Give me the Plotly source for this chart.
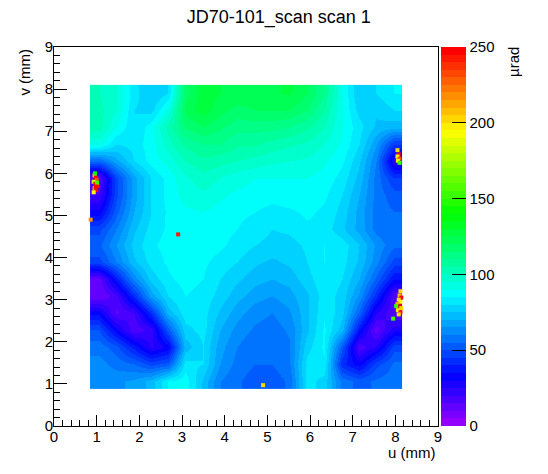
import colorsys
import plotly.graph_objects as go

# ---- data (values in µrad) ----
u_centers = [1.05, 1.46, 1.87, 2.27, 2.68, 3.08, 3.49, 3.90, 4.30,
             4.71, 5.11, 5.52, 5.93, 6.33, 6.74, 7.14, 7.55, 7.96]
v_centers_top_down = [7.90, 7.50, 7.10, 6.70, 6.30, 5.90, 5.49, 5.09, 4.69,
                      4.29, 3.89, 3.49, 3.09, 2.69, 2.28, 1.88, 1.48, 1.08]

rows_top_down = [
    [100, 95, 82, 75, 80, 118, 128, 125, 124, 124, 124, 126, 120, 110, 90, 75, 80, 85],
    [102, 95, 80, 78, 92, 122, 128, 122, 118, 120, 120, 120, 115, 105, 90, 78, 76, 80],
    [102, 90, 80, 88, 102, 115, 120, 116, 112, 112, 112, 110, 106, 100, 90, 82, 74, 72],
    [92, 80, 82, 88, 98, 106, 110, 110, 106, 106, 103, 101, 99, 95, 89, 80, 66, 45],
    [55, 68, 80, 87, 92, 100, 104, 102, 100, 98, 96, 95, 94, 91, 86, 76, 60, 25],
    [15, 48, 68, 80, 87, 94, 98, 95, 92, 90, 90, 90, 90, 88, 83, 73, 58, 45],
    [20, 48, 68, 80, 87, 92, 94, 91, 89, 88, 87, 88, 88, 86, 80, 70, 58, 52],
    [32, 53, 70, 80, 86, 89, 90, 88, 86, 85, 83, 84, 86, 84, 78, 68, 58, 55],
    [48, 60, 74, 82, 86, 88, 88, 87, 85, 83, 80, 81, 84, 83, 76, 68, 58, 55],
    [54, 65, 77, 84, 87, 88, 88, 86, 83, 80, 78, 78, 81, 85, 83, 75, 64, 56],
    [48, 60, 74, 82, 86, 88, 86, 83, 80, 76, 74, 76, 80, 85, 82, 74, 62, 48],
    [12, 38, 62, 77, 84, 87, 85, 80, 76, 72, 70, 72, 78, 84, 80, 70, 54, 35],
    [10, 18, 42, 67, 80, 85, 83, 78, 72, 67, 65, 68, 74, 83, 78, 64, 42, 15],
    [33, 14, 20, 42, 72, 83, 82, 74, 67, 62, 60, 64, 74, 84, 77, 54, 25, 15],
    [50, 32, 16, 22, 52, 78, 82, 70, 63, 59, 57, 61, 74, 86, 72, 36, 12, 28],
    [58, 52, 38, 24, 32, 72, 80, 67, 60, 56, 55, 59, 78, 86, 52, 16, 26, 48],
    [62, 58, 55, 48, 52, 82, 80, 65, 58, 55, 55, 59, 82, 84, 42, 32, 48, 56],
    [64, 64, 66, 72, 85, 88, 74, 60, 56, 52, 52, 56, 82, 78, 58, 53, 56, 58],
]

# isolated hot pixels (u mm, v mm, µrad)
hot_u = [0.95, 0.98, 1.00, 0.93, 0.97, 1.02, 0.95, 0.99, 0.93, 1.01, 0.96, 0.98, 0.86,
         8.05, 8.08, 8.05, 8.10, 8.06, 8.10,
         8.12, 8.10, 8.14, 8.08, 8.12, 8.05, 8.10, 8.14, 8.06, 8.12, 8.08, 8.02, 7.95,
         2.91, 4.90]
hot_v = [5.95, 5.90, 5.85, 5.80, 5.75, 5.70, 5.65, 5.60, 5.55, 5.78, 6.00, 5.68, 4.90,
         6.55, 6.45, 6.40, 6.35, 6.30, 6.25,
         3.20, 3.10, 3.05, 3.00, 2.95, 2.90, 2.85, 2.80, 2.75, 2.70, 2.65, 2.85, 2.55,
         4.55, 0.97]
hot_val = [200, 245, 230, 180, 250, 240, 210, 245, 190, 150, 140, 245, 215,
           200, 245, 190, 230, 195, 150,
           200, 205, 245, 200, 190, 210, 245, 200, 195, 240, 200, 150, 150,
           240, 200]

z_min, z_max = 0, 250
cb_ticks = [0, 50, 100, 150, 200, 250]

# ---- ROOT-like 50-colour rainbow palette (hue 280 -> 0) ----
ncol = 50
cscale = []
for i in range(ncol):
    hue = 280 - (i + 1) * (280 / ncol)
    r, g, b = colorsys.hls_to_rgb(hue / 360.0, 0.5, 1.0)
    col = f"rgb({int(r*255)},{int(g*255)},{int(b*255)})"
    cscale.append([i / ncol, col])
    cscale.append([(i + 1) / ncol, col])

z = rows_top_down[::-1]
v_centers = v_centers_top_down[::-1]

FONT = "Liberation Sans"

fig = go.Figure()
fig.add_trace(go.Heatmap(
    x=u_centers, y=v_centers, z=z,
    zmin=z_min, zmax=z_max, colorscale=cscale, zsmooth="best",
    colorbar=dict(
        x=1.008, xanchor="left", y=0.5, yanchor="middle", len=1.0,
        thickness=25, xpad=0, ypad=0, outlinewidth=0,
        tickvals=cb_ticks, ticks="inside", ticklen=14, tickcolor="black",
        tickfont=dict(family=FONT, size=15, color="black"),
    ),
))
fig.add_trace(go.Scatter(
    x=hot_u, y=hot_v, mode="markers",
    marker=dict(symbol="square", size=4, color=hot_val, cmin=z_min, cmax=z_max,
                colorscale=cscale, showscale=False, line=dict(width=0)),
    hoverinfo="skip", showlegend=False,
))

axis_common = dict(
    range=[0, 9], dtick=1, ticks="inside", tickcolor="black", tickwidth=1,
    showline=True, linecolor="black", linewidth=1, mirror=True,
    showgrid=False, zeroline=False, ticklabelstandoff=-3,
    tickfont=dict(family=FONT, size=15, color="black"),
    minor=dict(dtick=0.2, ticks="inside", ticklen=6, tickcolor="black", showgrid=False),
)
fig.update_layout(
    width=532, height=458,
    margin=dict(l=46, r=102, t=39, b=40),
    paper_bgcolor="white", plot_bgcolor="white",
    title=dict(text="JD70-101_scan scan 1", x=0.509, xanchor="center",
               y=0.980, yanchor="middle",
               font=dict(family=FONT, size=18, color="black")),
    xaxis=dict(**axis_common, ticklen=11),
    yaxis=dict(**axis_common, ticklen=13),
    annotations=[
        dict(text="u (mm)", xref="paper", yref="paper", x=1.0, y=-0.071,
             xanchor="right", yanchor="middle", showarrow=False,
             font=dict(family=FONT, size=15, color="black")),
        dict(text="v (mm)", xref="paper", yref="paper", x=-0.078, y=1.0,
             xanchor="center", yanchor="top", textangle=-90, showarrow=False,
             font=dict(family=FONT, size=15, color="black")),
        dict(text="µrad", xref="paper", yref="paper", x=1.195, y=1.005,
             xanchor="center", yanchor="top", textangle=-90, showarrow=False,
             font=dict(family=FONT, size=15, color="black")),
    ],
)
fig.write_html("out.html")
